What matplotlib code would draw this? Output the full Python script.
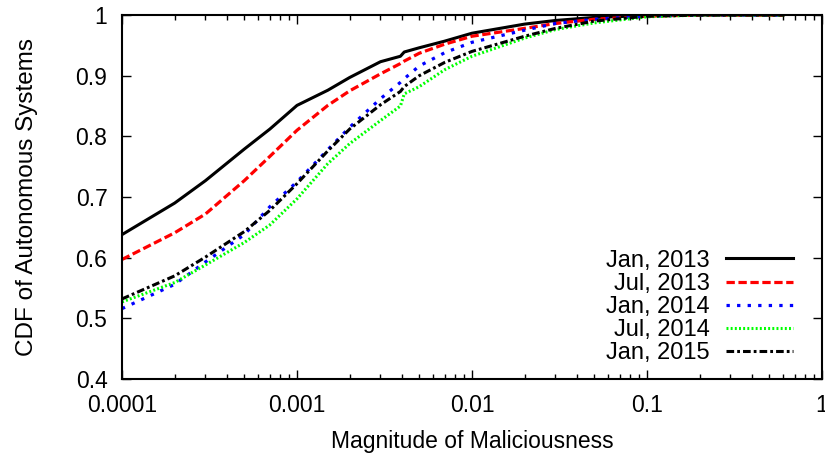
import matplotlib
matplotlib.use("Agg")
from matplotlib import pyplot as plt
from matplotlib.ticker import FixedLocator, LogLocator, NullFormatter

plt.rcParams['font.family'] = ['Liberation Sans', 'DejaVu Sans']
plt.rcParams['lines.scale_dashes'] = False

# magnitude of maliciousness (x) and CDF values
magnitude = [1e-4, 2e-4, 3e-4, 5e-4, 7e-4, 1e-3, 1.5e-3, 2e-3, 3e-3, 3.9e-3,
             4.1e-3, 5e-3, 7e-3, 1e-2, 2e-2, 3e-2, 5e-2, 1e-1, 2e-1, 6e-1]
jan_2013 = [0.638, 0.690, 0.727, 0.779, 0.812, 0.851, 0.876, 0.897, 0.923, 0.932,
            0.939, 0.946, 0.957, 0.970, 0.985, 0.991, 0.996, 0.999, 1.0, 1.0]
jul_2013 = [0.597, 0.641, 0.672, 0.727, 0.767, 0.810, 0.851, 0.875, 0.903, 0.920,
            0.924, 0.937, 0.952, 0.965, 0.978, 0.986, 0.993, 0.998, 1.0, 1.0]
jan_2014 = [0.516, 0.556, 0.593, 0.638, 0.684, 0.725, 0.778, 0.815, 0.862, 0.889,
            0.895, 0.916, 0.938, 0.955, 0.975, 0.986, 0.993, 0.998, 1.0, 1.0]
jul_2014 = [0.527, 0.559, 0.588, 0.625, 0.654, 0.697, 0.755, 0.788, 0.826, 0.850,
            0.870, 0.882, 0.910, 0.932, 0.962, 0.976, 0.987, 0.997, 1.0, 1.0]
jan_2015 = [0.532, 0.570, 0.601, 0.643, 0.678, 0.722, 0.776, 0.812, 0.852, 0.874,
            0.882, 0.900, 0.922, 0.940, 0.965, 0.978, 0.990, 0.998, 1.0, 1.0]

labels = ["Jan, 2013", "Jul, 2013", "Jan, 2014", "Jul, 2014", "Jan, 2015"]
x_ticks = [1e-4, 1e-3, 1e-2, 1e-1, 1]
x_tick_labels = ["0.0001", "0.001", "0.01", "0.1", "1"]
y_ticks = [0.4, 0.5, 0.6, 0.7, 0.8, 0.9, 1.0]
y_tick_labels = ["0.4", "0.5", "0.6", "0.7", "0.8", "0.9", "1"]

fig = plt.figure(figsize=(8.25, 4.55), dpi=100)
ax = fig.add_axes([122 / 825, 1 - 379 / 455, 700 / 825, 364 / 455])

ax.plot(magnitude, jan_2013, color='black', lw=2.2, ls='-', label=labels[0])
ax.plot(magnitude, jul_2013, color='#ff0000', lw=2.3, ls=(0, (6.0, 2.6)), label=labels[1])
ax.plot(magnitude, jan_2014, color='#0000ff', lw=2.3, ls=(0, (2.4, 5.2)), label=labels[2])
ax.plot(magnitude, jul_2014, color='#00ff00', lw=2.2, ls=(0, (1.4, 1.6)), label=labels[3])
ax.plot(magnitude, jan_2015, color='black', lw=2.2, ls=(0, (5.5, 2.2, 2.0, 2.2)), label=labels[4])

ax.set_xscale('log')
ax.set_xlim(1e-4, 1)
ax.set_ylim(0.4, 1.0)

ax.xaxis.set_major_locator(FixedLocator(x_ticks))
ax.set_xticklabels(x_tick_labels)
ax.xaxis.set_minor_locator(LogLocator(base=10, subs=range(2, 10)))
ax.xaxis.set_minor_formatter(NullFormatter())
ax.set_yticks(y_ticks)
ax.set_yticklabels(y_tick_labels)

ax.tick_params(which='both', direction='in', top=True, right=True,
               labelsize=16.5, width=1.0)
ax.tick_params(which='major', length=6.5)
ax.tick_params(which='minor', length=3.5)
ax.tick_params(axis='x', which='major', pad=11)
ax.tick_params(axis='y', which='major', pad=10.5)
for s in ax.spines.values():
    s.set_linewidth(1.5)

ax.set_xlabel("Magnitude of Maliciousness", fontsize=16.5, labelpad=9)
ax.set_ylabel("CDF of Autonomous Systems", fontsize=17.5, labelpad=27)

ax.legend(loc='lower right', bbox_to_anchor=(0.958, 0.04), frameon=False,
          markerfirst=False, fontsize=17, handlelength=2.8, handletextpad=0.7,
          labelspacing=0.05, borderpad=0, borderaxespad=0)

fig.savefig("out.png", dpi=100)
